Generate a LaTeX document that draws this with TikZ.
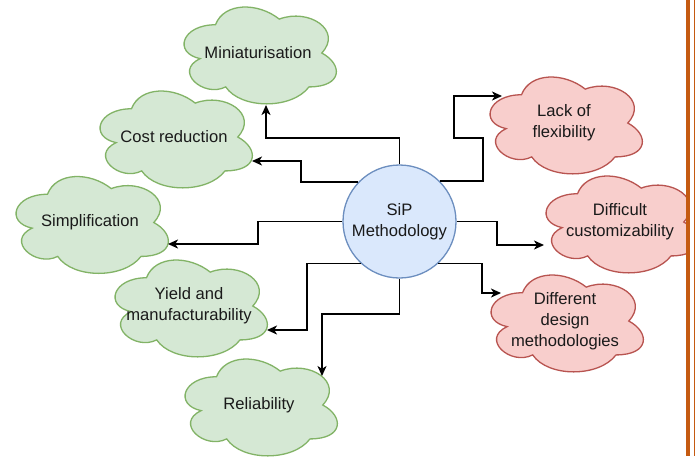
\documentclass[tikz,border=0pt]{standalone}
\usepackage{fontspec}
\setmainfont{Liberation Sans}
\usetikzlibrary{arrows.meta}

\definecolor{goodfill}{HTML}{D5E8D4}
\definecolor{gooddraw}{HTML}{82B366}
\definecolor{badfill}{HTML}{F8CECC}
\definecolor{baddraw}{HTML}{B85450}
\definecolor{corefill}{HTML}{DAE8FC}
\definecolor{coredraw}{HTML}{6C8EBF}
\definecolor{edgerule}{HTML}{C55A11}
\definecolor{ink}{HTML}{1A1A1A}

\tikzset{
  good/.style={fill=goodfill, draw=gooddraw, line width=1.3pt},
  bad/.style={fill=badfill, draw=baddraw, line width=1.3pt},
  cloudtext/.style={align=center, text=ink, inner sep=0pt,
    font=\fontsize{16.6pt}{21pt}\selectfont},
  conn/.style={draw=black, line width=1.6pt,
    -{Stealth[length=10pt,width=9pt,inset=2.8pt]}},
}

% cloud outline (draw.io style) of 170 x 113 around a centre, plus its label node
\newcommand\drawcloud[4]{%
  \begin{scope}[shift={(#2)}, x=170pt, y=-113pt]
    \path[#3] (-0.25,-0.25)
      .. controls (-0.45,-0.25) and (-0.5,0) .. (-0.34,0.05)
      .. controls (-0.5,0.16) and (-0.32,0.4) .. (-0.19,0.3)
      .. controls (-0.1,0.5) and (0.2,0.5) .. (0.3,0.3)
      .. controls (0.5,0.3) and (0.5,0.1) .. (0.375,0)
      .. controls (0.5,-0.2) and (0.3,-0.4) .. (0.125,-0.3)
      .. controls (0,-0.45) and (-0.2,-0.45) .. (-0.25,-0.25) -- cycle;
  \end{scope}
  \node[cloudtext] (#1) at (#2) {#4};
}

\begin{document}
\begin{tikzpicture}[x=1pt, y=-1pt]
  \useasboundingbox (0,0) rectangle (695,456);
  \fill[white] (0,0) rectangle (695,456);

  % benefits
  \drawcloud{mini}{258,53}{good}{Miniaturisation}
  \drawcloud{cost}{174,137}{good}{Cost reduction}
  \drawcloud{simp}{90,222.5}{good}{Simplification}
  \drawcloud{yield}{189,306}{good}{Yield and\\manufacturability}
  \drawcloud{rel}{259,405}{good}{Reliability}

  % drawbacks
  \drawcloud{lack}{564,123}{bad}{Lack of\\flexibility}
  \drawcloud{diff}{620,222}{bad}{Difficult\\customizability}
  \drawcloud{design}{565,321}{bad}{Different\\design\\methodologies}

  % central topic
  \node[circle, minimum size=113pt, fill=corefill, draw=coredraw,
        line width=1.3pt, cloudtext] (sip) at (399.5,221.5) {SiP\\Methodology};

  % arrow end points on the clouds
  \coordinate (mini-in)   at (266,105);
  \coordinate (cost-in)   at (252,161);
  \coordinate (simp-in)   at (168,244);
  \coordinate (yield-in)  at (267,330);
  \coordinate (rel-in)    at (322,376);
  \coordinate (lack-in)   at (502,96);
  \coordinate (diff-in)   at (544,245);
  \coordinate (design-in) at (501,293);

  % orthogonal connectors
  \draw[conn] (sip.north) |- (266,138) -- (mini-in);
  \draw[conn] (sip.136) -| (301,161) -- (cost-in);
  \draw[conn] (sip.west) -| (258,244) -- (simp-in);
  \draw[conn] (sip.227) -| (307,330) -- (yield-in);
  \draw[conn] (sip.south) |- (322,314) -- (rel-in);
  \draw[conn] (sip.45) -| (483,138) -| (454,96) -- (lack-in);
  \draw[conn] (sip.east) -| (497,245) -- (diff-in);
  \draw[conn] (sip.-47) -| (482,293) -- (design-in);

  % page edge rules
  \fill[white] (686,0) rectangle (695,456);
  \fill[edgerule] (686,0) rectangle (690,456);
  \fill[edgerule] (693.5,0) rectangle (695,456);
\end{tikzpicture}
\end{document}
